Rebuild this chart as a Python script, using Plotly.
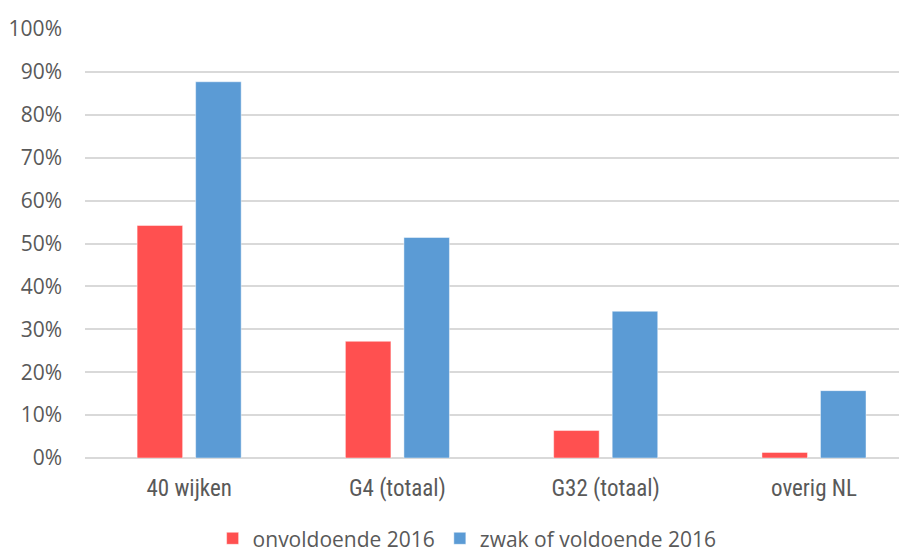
import plotly.graph_objects as go

categories = ["40 wijken", "G4 (totaal)", "G32 (totaal)", "overig NL"]
onvoldoende_2016 = [0.542, 0.272, 0.064, 0.013]
zwak_of_voldoende_2016 = [0.877, 0.514, 0.342, 0.157]
series_names = ["onvoldoende 2016", "zwak of voldoende 2016"]
y_ticks = [i / 10 for i in range(11)]
y_tick_labels = [f"{i * 10}%" for i in range(11)]

fig = go.Figure()
fig.add_trace(go.Bar(
    x=categories, y=onvoldoende_2016, name=series_names[0],
    marker=dict(color="#FF5050", line=dict(color="rgba(255,255,255,0.45)", width=1)),
))
fig.add_trace(go.Bar(
    x=categories, y=zwak_of_voldoende_2016, name=series_names[1],
    marker=dict(color="#5B9BD5", line=dict(color="rgba(255,255,255,0.45)", width=1)),
))

fig.update_layout(
    width=899, height=544,
    margin=dict(l=77, r=2, t=21, b=94, autoexpand=False),
    paper_bgcolor="white", plot_bgcolor="white",
    barmode="group", bargap=0.438, bargroupgap=0.222,
    showlegend=True,
    legend=dict(orientation="h", x=0.466, xanchor="center", y=-0.188, yanchor="middle",
                font=dict(family="Open Sans, DejaVu Sans", size=21, color="#595959"),
                itemwidth=30, tracegroupgap=0, traceorder="normal"),
    font=dict(family="Open Sans", color="#595959"),
)
fig.update_xaxes(
    range=[-0.5, 3.437], showgrid=False, zeroline=False, showline=False,
    ticks="", automargin=False,
    tickfont=dict(family="Liberation Sans Narrow, Roboto Condensed, Liberation Sans", size=23, color="#595959"),
    ticklabelstandoff=14,
)
fig.update_yaxes(
    range=[0, 1], tickvals=y_ticks, ticktext=y_tick_labels,
    showgrid=True, gridcolor="#D9D9D9", gridwidth=1.5,
    zeroline=True, zerolinecolor="#D9D9D9", zerolinewidth=1.5,
    showline=False, ticks="", automargin=False,
    tickfont=dict(family="Open Sans, DejaVu Sans", size=21, color="#595959"),
    ticklabelstandoff=22,
)

fig.write_html("out.html")
